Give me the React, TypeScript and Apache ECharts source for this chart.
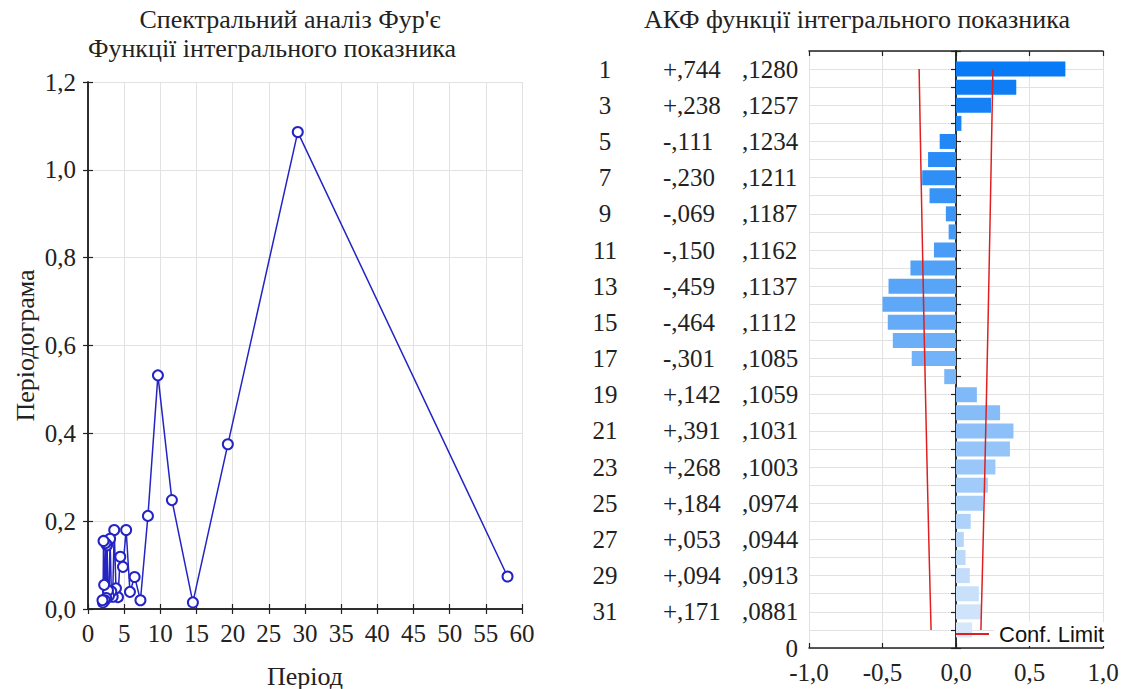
import React, { useEffect, useRef } from 'react';
import * as echarts from 'echarts';

// ---- Left chart: periodogram ----
const periods = [58, 29, 19.333, 14.5, 11.6, 9.667, 8.286, 7.25, 6.444, 5.8, 5.273, 4.833, 4.462, 4.143, 3.867, 3.625, 3.412, 3.222, 3.053, 2.9, 2.762, 2.636, 2.522, 2.417, 2.32, 2.231, 2.148, 2.071, 2.0];
const periodogram = [0.074, 1.086, 0.375, 0.015, 0.248, 0.532, 0.212, 0.02, 0.073, 0.039, 0.18, 0.096, 0.119, 0.027, 0.047, 0.18, 0.028, 0.04, 0.16, 0.03, 0.042, 0.145, 0.025, 0.15, 0.02, 0.055, 0.155, 0.015, 0.02];

// ---- Right chart: ACF ----
const lagCategories = ['0', '1', '2', '3', '4', '5', '6', '7', '8', '9', '10', '11', '12', '13', '14', '15', '16', '17', '18', '19', '20', '21', '22', '23', '24', '25', '26', '27', '28', '29', '30', '31', '32', '33'];
const lags = [1, 2, 3, 4, 5, 6, 7, 8, 9, 10, 11, 12, 13, 14, 15, 16, 17, 18, 19, 20, 21, 22, 23, 24, 25, 26, 27, 28, 29, 30, 31, 32];
const acf = [0.744, 0.41, 0.238, 0.037, -0.111, -0.19, -0.23, -0.18, -0.069, -0.05, -0.15, -0.31, -0.459, -0.5, -0.464, -0.43, -0.301, -0.08, 0.142, 0.3, 0.391, 0.367, 0.268, 0.217, 0.184, 0.1, 0.053, 0.065, 0.094, 0.155, 0.171, 0.11];
const stdErr = [0.128, 0.1269, 0.1257, 0.1246, 0.1234, 0.1223, 0.1211, 0.1199, 0.1187, 0.1175, 0.1162, 0.115, 0.1137, 0.1125, 0.1112, 0.1099, 0.1085, 0.1072, 0.1059, 0.1045, 0.1031, 0.1017, 0.1003, 0.0989, 0.0974, 0.0959, 0.0944, 0.0929, 0.0913, 0.0897, 0.0881, 0.0865];
const labelLags = [1, 3, 5, 7, 9, 11, 13, 15, 17, 19, 21, 23, 25, 27, 29, 31];
const rTexts = ['+,744', '+,238', '-,111', '-,230', '-,069', '-,150', '-,459', '-,464', '-,301', '+,142', '+,391', '+,268', '+,184', '+,053', '+,094', '+,171'];
const seTexts = [',1280', ',1257', ',1234', ',1211', ',1187', ',1162', ',1137', ',1112', ',1085', ',1059', ',1031', ',1003', ',0974', ',0944', ',0913', ',0881'];

const SERIF = 'Liberation Serif, serif';
const SANS = 'Liberation Sans, sans-serif';
const FS = 25;
const comma = (v: number) => v.toFixed(1).replace('.', ',');

function barColor(i: number, n: number) {
  const t = i / (n - 1);
  const a = [8, 122, 245];
  const b = [214, 231, 250];
  const c = a.map((x, k) => Math.round(x + (b[k] - x) * t));
  return `rgb(${c[0]},${c[1]},${c[2]})`;
}

export default function App() {
  const ref = useRef<HTMLDivElement>(null);
  useEffect(() => {
    if (!ref.current) return;
    const chart = echarts.init(ref.current, null, { renderer: 'svg' });
    const axisLine = { show: true, lineStyle: { color: '#222', width: 1.5 } };
    const tickIn = { show: true, inside: true, length: 5, lineStyle: { color: '#222', width: 1.2 } };
    const grid = { show: true, lineStyle: { color: '#e2e2e2', width: 1 } };
    const labelStyle = { fontFamily: SERIF, fontSize: FS, color: '#222', fontWeight: 'normal' };
    const titleStyle = { ...labelStyle, fontSize: 26 };

    chart.setOption({
      animation: false,
      backgroundColor: '#fff',
      textStyle: { fontFamily: SERIF },
      title: [
        { text: 'Спектральний аналіз Фур\'є', left: 290, top: 6, textAlign: 'center', padding: 0, textStyle: titleStyle },
        { text: 'Функції інтегрального показника', left: 272, top: 35, textAlign: 'center', padding: 0, textStyle: titleStyle },
        { text: 'АКФ функції інтегрального показника', left: 857, top: 6, textAlign: 'center', padding: 0, textStyle: titleStyle },
      ],
      legend: {
        data: ['Conf. Limit'],
        left: 956,
        top: 622,
        icon: 'rect',
        itemWidth: 33,
        itemHeight: 2,
        itemGap: 0,
        padding: 0,
        textStyle: { fontFamily: SANS, fontSize: 22, color: '#111', backgroundColor: '#fff', padding: [1, 2, 1, 5] },
      },
      grid: [
        { left: 88, right: 599, top: 82, bottom: 80, outerBoundsMode: 'none', containLabel: false },
        { left: 809, right: 18, top: 51, bottom: 41, outerBoundsMode: 'none', containLabel: false },
      ],
      xAxis: [
        {
          gridIndex: 0, type: 'value', min: 0, max: 60, interval: 5, position: 'bottom',
          name: 'Період', nameLocation: 'middle', nameGap: 54, nameTextStyle: titleStyle,
          axisLine, axisTick: tickIn, splitLine: grid,
          axisLabel: { ...labelStyle, margin: 12 },
        },
        {
          gridIndex: 0, type: 'value', min: 0, max: 60, interval: 5, position: 'top',
          axisLine, axisTick: tickIn, splitLine: { show: false }, axisLabel: { show: false },
        },
        {
          gridIndex: 1, type: 'value', min: -1, max: 1, interval: 0.5, position: 'bottom',
          axisLine, axisTick: tickIn, splitLine: grid,
          axisLabel: { ...labelStyle, margin: 12, formatter: (v: number) => comma(v) },
        },
        {
          gridIndex: 1, type: 'value', min: -1, max: 1, interval: 0.5, position: 'top',
          axisLine, axisTick: tickIn, splitLine: { show: false }, axisLabel: { show: false },
        },
      ],
      yAxis: [
        {
          gridIndex: 0, type: 'value', min: 0, max: 1.2, interval: 0.2, position: 'left',
          name: 'Періодограма', nameLocation: 'middle', nameRotate: 90, nameGap: 50, nameTextStyle: titleStyle,
          axisLine, axisTick: tickIn, splitLine: grid,
          axisLabel: { ...labelStyle, margin: 12, formatter: (v: number) => comma(v) },
        },
        {
          gridIndex: 0, type: 'value', min: 0, max: 1.2, interval: 0.2, position: 'right',
          axisLine, axisTick: tickIn, splitLine: { show: false }, axisLabel: { show: false },
        },
        {
          gridIndex: 1, type: 'category', data: lagCategories, inverse: true, boundaryGap: false, position: 'left',
          axisLine, axisTick: { ...tickIn, interval: 0 }, splitLine: { ...grid, interval: 0 },
          axisLabel: {
            ...labelStyle, margin: 11, interval: 0, align: 'right',
            formatter: (value: string) => {
              const lag = Number(value);
              if (lag === 33) return '0';
              const k = labelLags.indexOf(lag);
              if (k < 0) return '';
              return `{b|${rTexts[k]}}{c|${seTexts[k]}}`;
            },
            rich: {
              b: { ...labelStyle, width: 79, align: 'left' },
              c: { ...labelStyle, width: 56, align: 'left' },
            },
          },
        },
        {
          gridIndex: 1, type: 'category', data: lagCategories, inverse: true, boundaryGap: false, position: 'right',
          axisLine, axisTick: { ...tickIn, interval: 0 }, splitLine: { show: false }, axisLabel: { show: false },
        },
        {
          gridIndex: 1, type: 'category', data: lagCategories, inverse: true, boundaryGap: false, position: 'left',
          axisLine: { show: false }, axisTick: { show: false }, splitLine: { show: false },
          axisLabel: {
            ...labelStyle, margin: 204, interval: 0, align: 'center',
            formatter: (value: string) => (labelLags.indexOf(Number(value)) >= 0 ? value : ''),
          },
        },
      ],
      series: [
        {
          type: 'line', xAxisIndex: 0, yAxisIndex: 0,
          data: periods.map((p, i) => [p, periodogram[i]]),
          symbol: 'emptyCircle', symbolSize: 10,
          lineStyle: { color: '#2424c4', width: 1.5 },
          itemStyle: { color: '#2424c4', borderWidth: 1.5 },
          z: 3,
        },
        {
          type: 'bar', xAxisIndex: 2, yAxisIndex: 2, barWidth: 15,
          data: lags.map((lag, i) => ({ value: [acf[i], String(lag)], itemStyle: { color: barColor(i, lags.length) } })),
          z: 2,
        },
        {
          name: 'Conf. Limit', type: 'line', xAxisIndex: 2, yAxisIndex: 2, showSymbol: false, symbol: 'none',
          color: '#e02020', lineStyle: { color: '#e02020', width: 1.5 },
          data: lags.map((lag, i) => [1.96 * stdErr[i], String(lag)]), z: 4,
        },
        {
          name: 'Conf. Limit', type: 'line', xAxisIndex: 2, yAxisIndex: 2, showSymbol: false, symbol: 'none',
          color: '#e02020', lineStyle: { color: '#e02020', width: 1.5 },
          data: lags.map((lag, i) => [-1.96 * stdErr[i], String(lag)]), z: 4,
        },
      ],
    });
    return () => chart.dispose();
  }, []);
  return <div ref={ref} style={{ position: 'fixed', left: 0, top: 0, width: 1121, height: 689 }} />;
}
